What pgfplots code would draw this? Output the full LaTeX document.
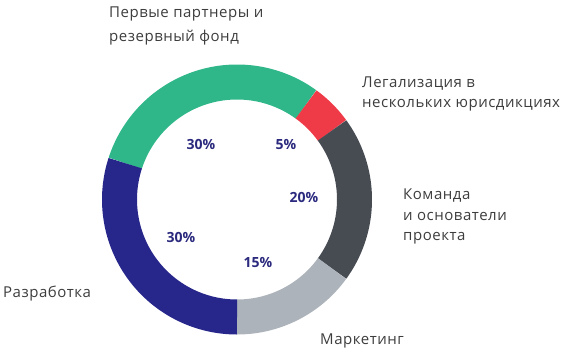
\documentclass[border=0pt]{standalone}
\usepackage{pgfplots}
\pgfplotsset{compat=1.18}
\usepackage{fontspec}
\setmainfont{Open Sans}
\newfontfamily\lblfont{Open Sans}[LetterSpace=3.5]
\definecolor{cgreen}{HTML}{2FB78A}
\definecolor{cred}{HTML}{EF3A47}
\definecolor{cdark}{HTML}{474B52}
\definecolor{clight}{HTML}{ACB3BA}
\definecolor{cnavy}{HTML}{27268B}
\definecolor{ctext}{HTML}{3D3D3D}
\definecolor{cpct}{HTML}{2B2A7E}
\begin{document}
\begin{tikzpicture}
\begin{axis}[
  scale only axis, width=567bp, height=356bp,
  xmin=0, xmax=567, ymin=0, ymax=356, y dir=reverse,
  hide axis, clip=false,
  samples=90, variable=\t,
]
% shares (percent), drawn clockwise from -72 deg (measured from 12 o'clock)
% Первые партнеры 30, Легализация 5, Команда 20, Маркетинг 15, Разработка 30
\addplot[line width=35bp, cgreen, domain={-72+3.6*0}:{-72+3.6*30}] ({237+117.5*sin(\t)},{199.5-117.5*cos(\t)});
\addplot[line width=35bp, cred,   domain={-72+3.6*30}:{-72+3.6*35}] ({237+117.5*sin(\t)},{199.5-117.5*cos(\t)});
\addplot[line width=35bp, cdark,  domain={-72+3.6*35}:{-72+3.6*55}] ({237+117.5*sin(\t)},{199.5-117.5*cos(\t)});
\addplot[line width=35bp, clight, domain={-72+3.6*55}:{-72+3.6*70}] ({237+117.5*sin(\t)},{199.5-117.5*cos(\t)});
\addplot[line width=35bp, cnavy,  domain={-72+3.6*70}:{-72+3.6*100}] ({237+117.5*sin(\t)},{199.5-117.5*cos(\t)});

\begin{scope}[every node/.style={anchor=base west, inner sep=0pt, text=ctext, font=\lblfont\fontsize{15bp}{18bp}\selectfont}]
\node at (axis cs:109,18) {Первые партнеры и};
\node at (axis cs:109,41) {резервный фонд};
\node at (axis cs:362,87) {Легализация в};
\node at (axis cs:362,107) {нескольких юрисдикциях};
\node at (axis cs:403,199) {Команда};
\node at (axis cs:403,220) {и основатели};
\node at (axis cs:403,240) {проекта};
\node at (axis cs:3,297) {Разработка};
\node at (axis cs:320,344) {Маркетинг};
\end{scope}
\begin{scope}[every node/.style={anchor=base, inner sep=0pt, text=cpct, font=\fontsize{14bp}{17bp}\selectfont\bfseries}]
\node at (axis cs:201,149) {30\%};
\node at (axis cs:286,149) {5\%};
\node at (axis cs:304,202) {20\%};
\node at (axis cs:181,242) {30\%};
\node at (axis cs:258,267) {15\%};
\end{scope}
\end{axis}
\pgfresetboundingbox
\path[use as bounding box] (current axis.south west) rectangle (current axis.north east);
\end{tikzpicture}
\end{document}
